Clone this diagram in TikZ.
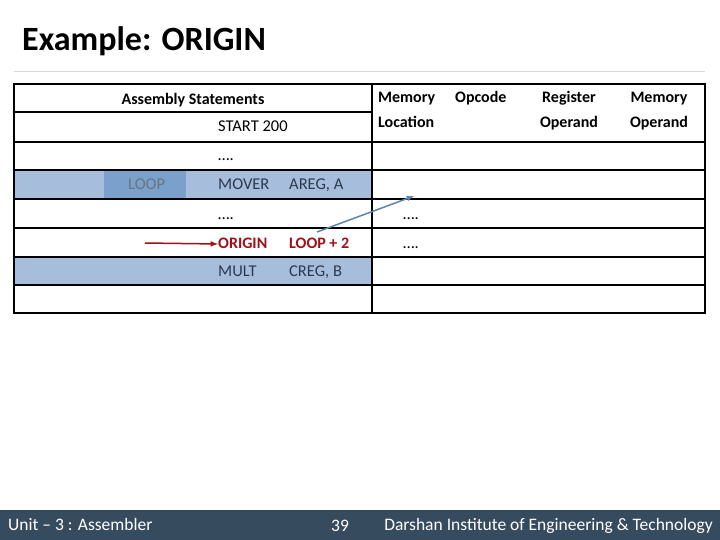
\documentclass[tikz,border=0pt]{standalone}
\usepackage{fontspec}
\setmainfont{Carlito}
\definecolor{bar}{HTML}{374B5F}
\definecolor{rowblue}{HTML}{A6BEDC}
\definecolor{loopblue}{HTML}{7BA0CB}
\definecolor{txt}{HTML}{2B3A4D}
\definecolor{dred}{HTML}{A01018}
\definecolor{arrblue}{HTML}{5B84B0}
\begin{document}
\begin{tikzpicture}[x=1pt,y=-1pt,
  fs/.style={font=\fontsize{16.5}{18}\selectfont,text height=11pt,text depth=3pt},
  cell/.style={fs,anchor=west,inner sep=0pt},
  hdr/.style={fs,font=\fontsize{16}{18}\selectfont\bfseries,inner sep=0pt},
  grid/.style={line width=1.3pt,black}]
\useasboundingbox (0,0) rectangle (720,540);
\node[anchor=west,font=\fontsize{34}{38}\selectfont\bfseries,inner sep=0pt] (title) at (22,41) {Example: ORIGIN};
\draw[gray!30,line width=1pt] (14,72) -- (705,72);
% blue rows
\fill[rowblue] (14,170) rectangle (372,199);
\fill[rowblue] (14,257) rectangle (372,285);
\fill[loopblue] (104,170) rectangle (186,199);
% grid
\draw[grid] (14,84) rectangle (705,313);
\draw[grid] (372,84) -- (372,313);
\draw[grid] (14,112) -- (372,112);
\foreach \y in {142,170,199,228,257,285} \draw[grid] (14,\y) -- (705,\y);
% texts left
\node[hdr] (as) at (193,101) {Assembly Statements};
\node[cell] (st) at (218,128) {START 200};
\node[cell] (d1) at (218,157) {….};
\node[cell,text=txt!70] (loop) at (128,186) {LOOP};
\node[cell,text=txt] (mov) at (218,186) {MOVER};
\node[cell,text=txt] (areg) at (289,186) {AREG, A};
\node[cell] (d2) at (218,215) {….};
\node[cell,text=dred,font=\fontsize{16}{18}\selectfont\bfseries] (org) at (218,244) {ORIGIN};
\node[cell,text=dred,font=\fontsize{16}{18}\selectfont\bfseries] (lp2) at (289,244) {LOOP + 2};
\node[cell,text=txt] (mult) at (218,272) {MULT};
\node[cell,text=txt] (creg) at (289,272) {CREG, B};
% right headers
\node[hdr,anchor=west] (ml1) at (378,99) {Memory};
\node[hdr,anchor=west] (ml2) at (378,124) {Location};
\node[hdr,anchor=west] (opc) at (455,99) {Opcode};
\node[hdr] (ro1) at (569,99) {Register};
\node[hdr] (ro2) at (569,124) {Operand};
\node[hdr] (mo1) at (659,99) {Memory};
\node[hdr] (mo2) at (659,124) {Operand};
\node[cell] (d3) at (403,215) {….};
\node[cell] (d4) at (403,244) {….};
% arrows
\coordinate (rs) at (145,243);
\draw[dred,line width=1.5pt,-latex] (rs) -- (org.west);
\coordinate (bs) at (317,232);
\coordinate (be) at (414,196);
\draw[arrblue,line width=1.5pt,-latex] (bs) -- (be);
% footer
\fill[bar] (0,510) rectangle (720,540);
\node[anchor=west,text=white,fs,font=\fontsize{17.5}{19}\selectfont,inner sep=0pt] (f1) at (8,526) {Unit – 3 : Assembler};
\node[text=white,fs,font=\fontsize{17.5}{19}\selectfont,inner sep=0pt] (f2) at (340,527) {39};
\node[anchor=east,text=white,fs,font=\fontsize{17.5}{19}\selectfont,inner sep=0pt] (f3) at (713,526) {Darshan Institute of Engineering \& Technology};
\end{tikzpicture}
\end{document}
